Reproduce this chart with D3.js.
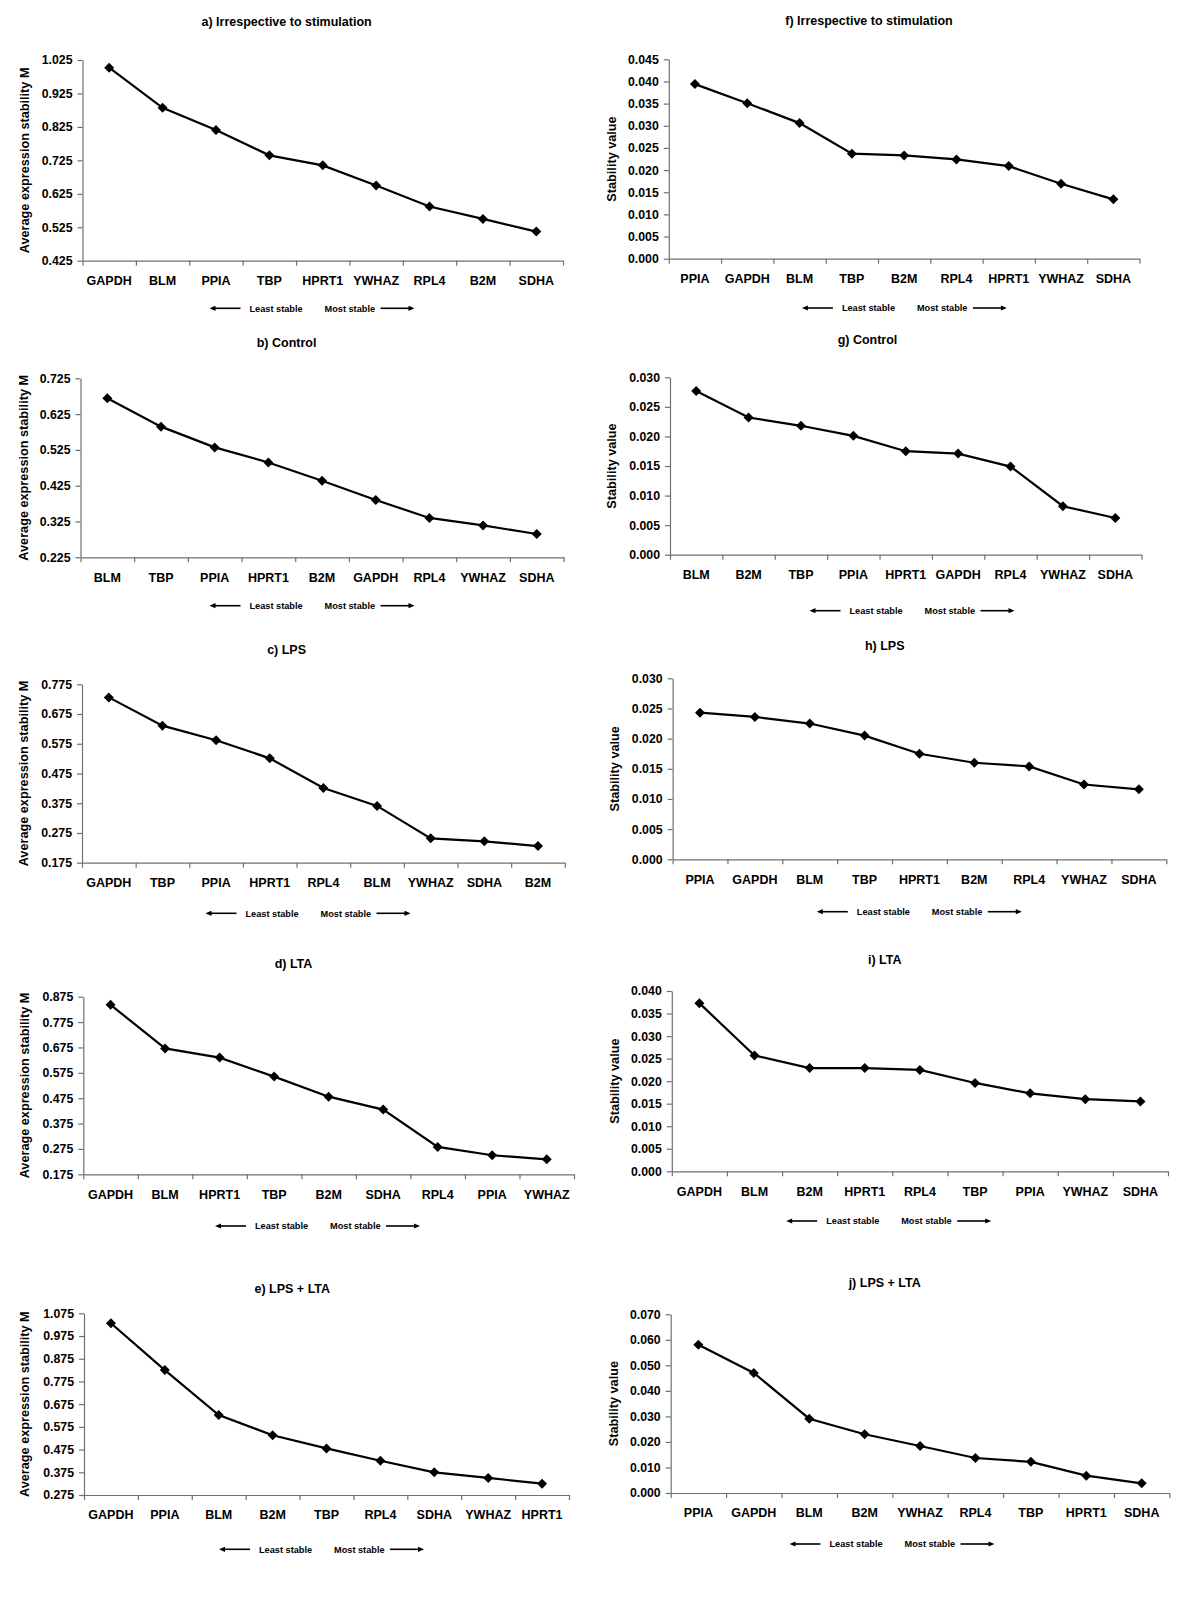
<!DOCTYPE html>
<html><head><meta charset="utf-8">
<script src="https://cdn.jsdelivr.net/npm/d3@7"></script>
<style>
body{margin:0;background:#fff;}
text{font-family:"Liberation Sans",Arial,sans-serif;font-weight:bold;fill:#000;}
</style></head><body>
<script>
// ---------- DATA ----------
const cats_a = ["GAPDH","BLM","PPIA","TBP","HPRT1","YWHAZ","RPL4","B2M","SDHA"];
const vals_a = [1.002,0.882,0.816,0.740,0.710,0.650,0.587,0.550,0.512];
const ticks_a = [0.425,0.525,0.625,0.725,0.825,0.925,1.025];

const cats_b = ["BLM","TBP","PPIA","HPRT1","B2M","GAPDH","RPL4","YWHAZ","SDHA"];
const vals_b = [0.669,0.590,0.532,0.490,0.439,0.385,0.335,0.314,0.290];
const ticks_b = [0.225,0.325,0.425,0.525,0.625,0.725];

const cats_c = ["GAPDH","TBP","PPIA","HPRT1","RPL4","BLM","YWHAZ","SDHA","B2M"];
const vals_c = [0.731,0.636,0.587,0.526,0.426,0.366,0.257,0.247,0.231];
const ticks_c = [0.175,0.275,0.375,0.475,0.575,0.675,0.775];

const cats_d = ["GAPDH","BLM","HPRT1","TBP","B2M","SDHA","RPL4","PPIA","YWHAZ"];
const vals_d = [0.843,0.671,0.635,0.560,0.481,0.430,0.283,0.250,0.234];
const ticks_d = [0.175,0.275,0.375,0.475,0.575,0.675,0.775,0.875];

const cats_e = ["GAPDH","PPIA","BLM","B2M","TBP","RPL4","SDHA","YWHAZ","HPRT1"];
const vals_e = [1.031,0.825,0.627,0.538,0.480,0.426,0.375,0.350,0.325];
const ticks_e = [0.275,0.375,0.475,0.575,0.675,0.775,0.875,0.975,1.075];

const cats_f = ["PPIA","GAPDH","BLM","TBP","B2M","RPL4","HPRT1","YWHAZ","SDHA"];
const vals_f = [0.0394,0.0351,0.0306,0.0237,0.0233,0.0224,0.0209,0.0169,0.0134];
const ticks_f = [0,0.005,0.010,0.015,0.020,0.025,0.030,0.035,0.040,0.045];

const cats_g = ["BLM","B2M","TBP","PPIA","HPRT1","GAPDH","RPL4","YWHAZ","SDHA"];
const vals_g = [0.0277,0.0232,0.0218,0.0201,0.0175,0.0171,0.0149,0.0082,0.0062];
const ticks_g = [0,0.005,0.010,0.015,0.020,0.025,0.030];

const cats_h = ["PPIA","GAPDH","BLM","TBP","HPRT1","B2M","RPL4","YWHAZ","SDHA"];
const vals_h = [0.0243,0.0236,0.0225,0.0205,0.0175,0.0160,0.0154,0.0124,0.0116];
const ticks_h = [0,0.005,0.010,0.015,0.020,0.025,0.030];

const cats_i = ["GAPDH","BLM","B2M","HPRT1","RPL4","TBP","PPIA","YWHAZ","SDHA"];
const vals_i = [0.0373,0.0257,0.0229,0.0229,0.0225,0.0196,0.0173,0.0160,0.0155];
const ticks_i = [0,0.005,0.010,0.015,0.020,0.025,0.030,0.035,0.040];

const cats_j = ["PPIA","GAPDH","BLM","B2M","YWHAZ","RPL4","TBP","HPRT1","SDHA"];
const vals_j = [0.0581,0.0470,0.0291,0.0230,0.0184,0.0137,0.0122,0.0068,0.0038];
const ticks_j = [0,0.010,0.020,0.030,0.040,0.050,0.060,0.070];

const titles = ["a) Irrespective to stimulation","b) Control","c) LPS","d) LTA","e) LPS + LTA",
                "f) Irrespective to stimulation","g) Control","h) LPS","i) LTA","j) LPS + LTA"];
const yLabelLeft = "Average expression stability M";
const yLabelRight = "Stability value";
const legendLeft = "Least stable";
const legendRight = "Most stable";

// ---------- LAYOUT ----------
const panels = [
  {cats:cats_a, vals:vals_a, ticks:ticks_a, title:titles[0], ylab:yLabelLeft, fmt:".3f",
   x0:82.5, x1:563, yTop:60, yBot:260.7, tx:286.6, ty:21.7, lx:25, gx:312, gy:308.3},
  {cats:cats_b, vals:vals_b, ticks:ticks_b, title:titles[1], ylab:yLabelLeft, fmt:".3f",
   x0:80.5, x1:563.6, yTop:378.3, yBot:557.3, tx:286.6, ty:342.7, lx:23.5, gx:312, gy:605.7},
  {cats:cats_c, vals:vals_c, ticks:ticks_c, title:titles[2], ylab:yLabelLeft, fmt:".3f",
   x0:82, x1:564.8, yTop:684.3, yBot:862.7, tx:286.6, ty:649.3, lx:24, gx:308, gy:913.3},
  {cats:cats_d, vals:vals_d, ticks:ticks_d, title:titles[3], ylab:yLabelLeft, fmt:".3f",
   x0:83.3, x1:574, yTop:996.7, yBot:1174.3, tx:293.5, ty:963.3, lx:25, gx:317.5, gy:1226},
  {cats:cats_e, vals:vals_e, ticks:ticks_e, title:titles[4], ylab:yLabelLeft, fmt:".3f",
   x0:84, x1:569, yTop:1313.3, yBot:1495, tx:292.3, ty:1289, lx:25, gx:321.5, gy:1549.3},
  {cats:cats_f, vals:vals_f, ticks:ticks_f, title:titles[5], ylab:yLabelRight, fmt:".3f",
   x0:668.8, x1:1139.5, yTop:59.3, yBot:258.7, tx:869, ty:20.7, lx:611.5, gx:904.4, gy:308},
  {cats:cats_g, vals:vals_g, ticks:ticks_g, title:titles[6], ylab:yLabelRight, fmt:".3f",
   x0:670, x1:1141.5, yTop:377.3, yBot:554.7, tx:867.5, ty:340, lx:611.5, gx:912, gy:610.7},
  {cats:cats_h, vals:vals_h, ticks:ticks_h, title:titles[7], ylab:yLabelRight, fmt:".3f",
   x0:672.6, x1:1166.3, yTop:678.3, yBot:859.3, tx:884.7, ty:646, lx:614.5, gx:919.3, gy:911.7},
  {cats:cats_i, vals:vals_i, ticks:ticks_i, title:titles[8], ylab:yLabelRight, fmt:".3f",
   x0:671.8, x1:1168, yTop:991, yBot:1171.3, tx:884.7, ty:959.3, lx:614.5, gx:888.7, gy:1221},
  {cats:cats_j, vals:vals_j, ticks:ticks_j, title:titles[9], ylab:yLabelRight, fmt:".3f",
   x0:670.7, x1:1169.4, yTop:1314.3, yBot:1493, tx:884.7, ty:1282.3, lx:613.4, gx:892, gy:1544}
];

const svg = d3.select("body").append("svg").attr("width",1200).attr("height",1600);
const AXIS = "#707070";

function drawLegend(g, cx, cy){
  const L = cx - 102.5;
  g.append("line").attr("x1",L+3).attr("x2",L+31).attr("y1",cy).attr("y2",cy)
    .attr("stroke","#000").attr("stroke-width",1.6);
  g.append("path").attr("d",`M${L},${cy}L${L+6},${cy-2.6}L${L+6},${cy+2.6}Z`).attr("fill","#000");
  g.append("text").attr("x",L+40).attr("y",cy).attr("dy","0.35em")
    .style("font-size","9.2px").text(legendLeft);
  g.append("text").attr("x",L+115).attr("y",cy).attr("dy","0.35em")
    .style("font-size","9.2px").text(legendRight);
  g.append("line").attr("x1",L+171).attr("x2",L+202).attr("y1",cy).attr("y2",cy)
    .attr("stroke","#000").attr("stroke-width",1.6);
  g.append("path").attr("d",`M${L+205},${cy}L${L+199},${cy-2.6}L${L+199},${cy+2.6}Z`).attr("fill","#000");
}

panels.forEach(p => {
  const g = svg.append("g");
  const x = d3.scaleBand().domain(p.cats).range([p.x0, p.x1]);
  const xb = d3.scaleLinear().domain([0, p.cats.length]).range([p.x0, p.x1]);
  const y = d3.scaleLinear().domain(d3.extent(p.ticks)).range([p.yBot, p.yTop]);

  // title
  g.append("text").attr("x",p.tx).attr("y",p.ty).attr("dy","0.35em")
    .attr("text-anchor","middle").style("font-size","12.5px").text(p.title);

  // y axis
  const ya = g.append("g").attr("transform",`translate(${p.x0},0)`)
    .call(d3.axisLeft(y).tickValues(p.ticks).tickFormat(d3.format(p.fmt))
      .tickSize(5).tickSizeOuter(0).tickPadding(5));
  ya.selectAll("path,line").attr("stroke",AXIS).attr("stroke-width",1.2);
  ya.selectAll("text").style("font-size","12.3px").style("font-family","Liberation Sans, Arial, sans-serif")
    .style("font-weight","bold").attr("fill","#000");

  // x axis with boundary ticks
  const xa = g.append("g").attr("transform",`translate(0,${p.yBot})`)
    .call(d3.axisBottom(xb).tickValues(d3.range(p.cats.length+1)).tickFormat("")
      .tickSize(5).tickSizeOuter(0));
  xa.selectAll("path,line").attr("stroke",AXIS).attr("stroke-width",1.2);

  // category labels
  const xl = g.append("g").attr("transform",`translate(0,${p.yBot})`)
    .call(d3.axisBottom(x).tickSize(0));
  xl.select(".domain").remove();
  xl.selectAll("text").attr("y",20).attr("dy","0.35em").style("font-size","12.5px")
    .style("font-family","Liberation Sans, Arial, sans-serif").style("font-weight","bold").attr("fill","#000");

  // y label
  g.append("text").attr("transform",`translate(${p.lx},${(p.yTop+p.yBot)/2}) rotate(-90)`)
    .attr("text-anchor","middle").attr("dy","0.35em").style("font-size","12.7px").text(p.ylab);

  // line
  const pts = p.cats.map((c,i)=>({c, v:p.vals[i]}));
  g.append("path").datum(pts)
    .attr("d", d3.line().x(d=>x(d.c)+x.bandwidth()/2).y(d=>y(d.v)))
    .attr("fill","none").attr("stroke","#000").attr("stroke-width",2.2);

  // markers
  const sym = d3.symbol().type(d3.symbolSquare).size(50);
  g.selectAll(".mk").data(pts).enter().append("path")
    .attr("d", sym)
    .attr("transform", d=>`translate(${x(d.c)+x.bandwidth()/2},${y(d.v)}) rotate(45)`)
    .attr("fill","#000");

  drawLegend(g, p.gx, p.gy);
});
</script>
</body></html>
